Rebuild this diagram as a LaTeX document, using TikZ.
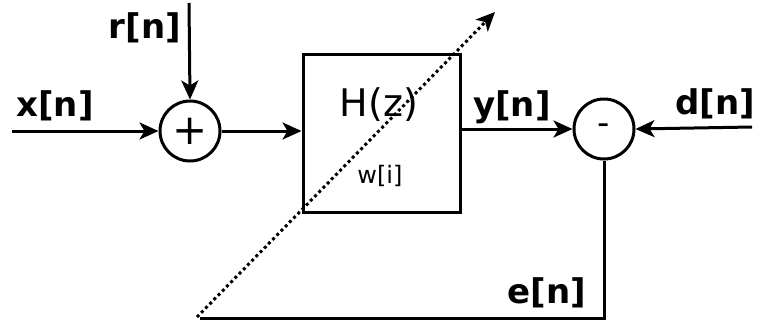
\documentclass[tikz,border=0pt]{standalone}
\usepackage{fontspec}
\setmainfont{DejaVu Sans}
\usetikzlibrary{arrows.meta}
\begin{document}
\begin{tikzpicture}[x=1pt,y=-1pt,
  tip/.style={-{Stealth[length=19pt,width=17pt,inset=5pt]}},
  wire/.style={line width=3pt,tip},
  plain/.style={line width=3pt},
  sumnode/.style={circle,draw,line width=3pt,minimum size=60pt,inner sep=0pt},
  sig/.style={font=\fontsize{34}{36}\selectfont\bfseries,inner sep=0pt}]
\useasboundingbox (0,0) rectangle (757,325);
% summing junctions and filter block
\node[sumnode] (add) at (190,131) {\fontsize{42}{44}\selectfont +};
\node[sumnode] (sub) at (604,129) {\fontsize{34}{36}\selectfont -};
\node[draw,line width=3pt,minimum width=157pt,minimum height=158pt,inner sep=0pt] (H) at (381.5,133) {};
\node[font=\fontsize{38}{40}\selectfont,inner sep=0pt] (Hz) at (379,105) {H(z)};
\node[font=\fontsize{24}{26}\selectfont,inner sep=0pt] (w) at (380,176) {w[i]};
% signal end points
\coordinate (xin) at (12,131);
\coordinate (rin) at (189,3);
\coordinate (din) at (752,127);
\coordinate (ecorner) at (604,318);
\coordinate (eend) at (200,318);
\coordinate (adpS) at (197,317);
\coordinate (adpE) at (495,12);
% connectors
\draw[wire] (xin) -- (add.west);
\draw[wire] (rin) -- (add.north);
\draw[wire] (add.east) -- (H.west |- add.east);
\draw[wire] (H.east |- sub.west) -- (sub.west);
\draw[wire] (din) -- (sub.east);
\draw[plain] (sub.south) -- (ecorner) -- (eend);
\draw[line width=3pt,dash pattern=on 3pt off 3pt,tip] (adpS) -- (adpE);
% labels
\node[sig] (lx) at (55,106) {x[n]};
\node[sig] (lr) at (145,28) {r[n]};
\node[sig] (ly) at (512,107) {y[n]};
\node[sig] (ld) at (715,104) {d[n]};
\node[sig] (le) at (547,293) {e[n]};
\end{tikzpicture}
\end{document}
